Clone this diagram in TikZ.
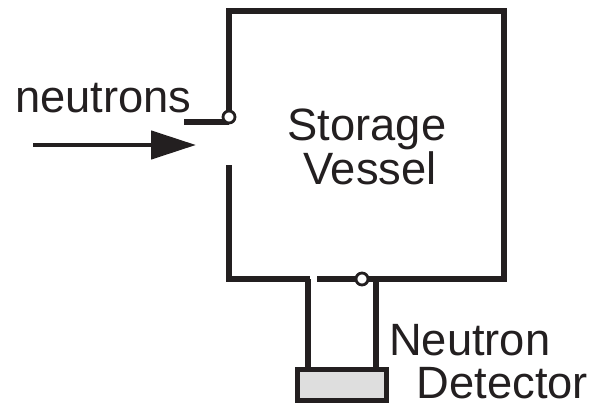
\documentclass[tikz,border=0pt]{standalone}
\usepackage{xcolor}
\usepackage{fontspec}
\setmainfont{Liberation Sans}
\usetikzlibrary{positioning,arrows.meta}
\definecolor{detgray}{HTML}{DEDEDE}
\definecolor{inkblack}{HTML}{231F20}
\begin{document}
\begin{tikzpicture}[x=1pt, y=-1pt,
   wall/.style={draw=inkblack, line width=5.2pt},
   hinge/.style={draw=inkblack, circle, fill=white, line width=2.8pt, inner sep=0pt, minimum size=12pt},
   label/.style={font=\fontsize{45.3}{50}\selectfont, text=inkblack, inner sep=0pt, anchor=base west},
   >={Triangle[length=45pt, width=28pt]}]
  \useasboundingbox (0,0) rectangle (592,404);
  % vessel outline, both openings left free
  \coordinate (topleft) at (229,11);
  \coordinate (topright) at (504,11);
  \coordinate (botright) at (504,279);
  \coordinate (botleft) at (229,279);
  \coordinate (inlethi) at (229,117);
  \coordinate (inletlo) at (229,165);
  \coordinate (gapleft) at (310,279);
  \coordinate (gapright) at (317,279);
  \coordinate (flapend) at (184,122);
  \coordinate (flaproot) at (229,122);
  \coordinate (beamstart) at (33,145);
  \coordinate (beamend) at (196,145);
  \coordinate (tubeleft) at (308,279);
  \coordinate (tuberight) at (376,279);
  \draw[wall] (inlethi) -- (topleft) -- (topright) -- (botright) -- (gapright);
  \draw[wall] (inletlo) -- (botleft) -- (gapleft);
  \draw[wall] (flapend) -- (flaproot);
  \node[hinge] (inlethinge) at (inlethi) {};
  \draw[->, draw=inkblack, fill=inkblack, line width=4.6pt] (beamstart) -- (beamend);
  % detector with its two tubes
  \node[draw=inkblack, fill=detgray, line width=5pt, inner sep=0pt,
        minimum width=89pt, minimum height=31pt] (detector) at (342,385) {};
  \draw[wall] (tubeleft) -- (tubeleft |- detector.north);
  \draw[wall] (tuberight) -- (tuberight |- detector.north);
  \node[hinge] (bothinge) at (362,279) {};
  \node[label] (neutrons) at (15,112) {neutrons};
  \node[label] (storage) at (287.5,140) {Storage};
  \node[label] (vessel) at (303,184) {Vessel};
  \node[label] (neutron) at (389,355) {Neutron};
  \node[label] (det) at (416.5,398) {Detector};
\end{tikzpicture}
\end{document}
